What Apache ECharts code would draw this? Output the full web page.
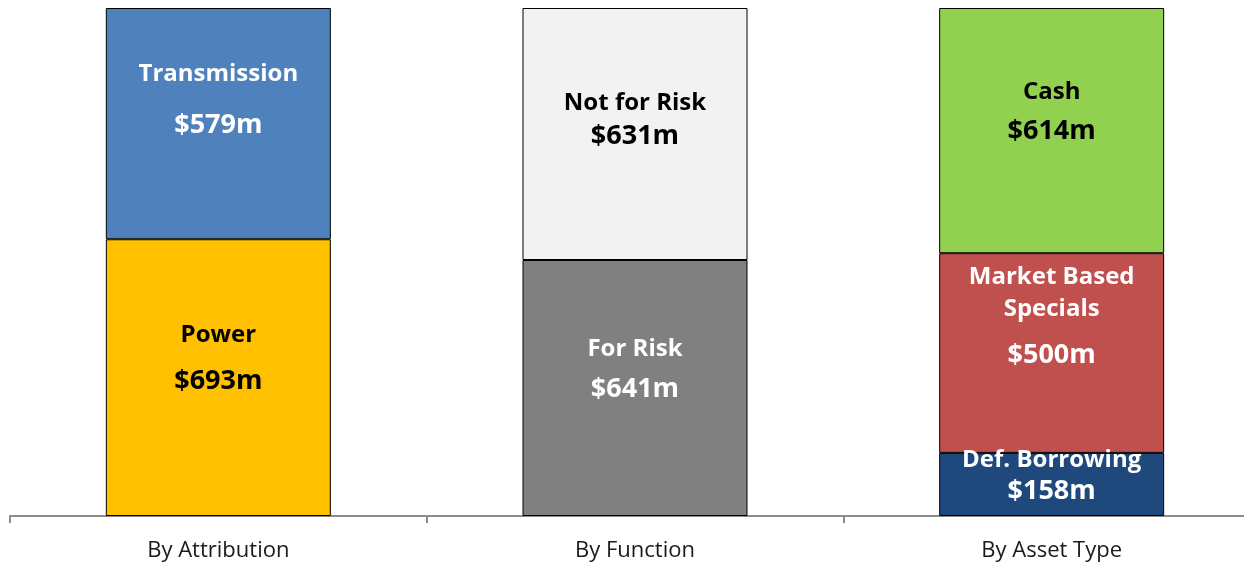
<!DOCTYPE html>
<html>
<head>
<meta charset="utf-8">
<script src="https://cdn.jsdelivr.net/npm/echarts@6/dist/echarts.min.js"></script>
<style>
  html, body { margin: 0; padding: 0; background: #fff; overflow: hidden; }
  #chart { width: 1260px; height: 564px; }
</style>
</head>
<body>
<div id="chart"></div>
<script>
// Breakdown categories along the x axis
const categories = ['By Attribution', 'By Function', 'By Asset Type'];

// Stacked segments, bottom to top within each category ($m)
const segmentNames = ['Power', 'Transmission', 'For Risk', 'Not for Risk', 'Def. Borrowing', 'Market Based Specials', 'Cash'];
const segmentCategory = [0, 0, 1, 1, 2, 2, 2];
const segmentValues = [693, 579, 641, 631, 158, 500, 614];

// Appearance of each segment: fill, label colour, label layout
const segmentStyle = {
  'Power':                 { color: '#FFC000', text: '#000000', gap: 46, offset: -19.5, name: 'Power' },
  'Transmission':          { color: '#4F81BD', text: '#FFFFFF', gap: 51, offset: -23.5, name: 'Transmission' },
  'For Risk':              { color: '#808080', text: '#FFFFFF', gap: 40, offset: -19,   name: 'For Risk' },
  'Not for Risk':          { color: '#F2F2F2', text: '#000000', gap: 33, offset: -14.5, name: 'Not for Risk' },
  'Def. Borrowing':        { color: '#1F497D', text: '#FFFFFF', gap: 31, offset: -8.5,  name: 'Def. Borrowing' },
  'Market Based Specials': { color: '#C0504D', text: '#FFFFFF', gap: 60, offset: -29.5, name: 'Market Based\nSpecials' },
  'Cash':                  { color: '#92D050', text: '#000000', gap: 39, offset: -19,   name: 'Cash' }
};

const totalMax = 1272;
const labelFont = '"Open Sans", Lato, sans-serif';

const series = segmentNames.map((name, i) => {
  const st = segmentStyle[name];
  const data = categories.map((c, ci) => ci === segmentCategory[i] ? segmentValues[i] : '-');
  const multi = st.name.indexOf('\n') >= 0;
  return {
    name: name,
    type: 'bar',
    stack: 'total',
    barWidth: 225,
    data: data,
    itemStyle: { color: st.color, borderColor: '#000', borderWidth: 1 },
    label: {
      show: true,
      position: 'inside',
      offset: [0, st.offset],
      formatter: (p) => {
        const nameLines = st.name.split('\n').map(l => '{n|' + l + '}').join('\n');
        return nameLines + '\n{v|$' + p.value + 'm}';
      },
      rich: {
        n: { fontFamily: labelFont, fontWeight: 'bold', fontSize: 24, color: st.text, lineHeight: multi ? 32 : st.gap },
        v: { fontFamily: labelFont, fontWeight: 'bold', fontSize: 27, color: st.text, lineHeight: st.gap }
      }
    }
  };
});

const chart = echarts.init(document.getElementById('chart'), null, { renderer: 'canvas' });
chart.setOption({
  animation: false,
  backgroundColor: '#ffffff',
  grid: { left: 10, right: 0, top: 8, bottom: 48, containLabel: false },
  xAxis: {
    type: 'category',
    data: categories,
    axisLine: { show: true, lineStyle: { color: '#8C8C8C', width: 2 } },
    axisTick: { show: true, length: 7, lineStyle: { color: '#8C8C8C', width: 2 } },
    axisLabel: { color: '#1a1a1a', fontFamily: labelFont, fontSize: 22, margin: 24 }
  },
  yAxis: {
    type: 'value',
    min: 0,
    max: totalMax,
    show: false,
    splitLine: { show: false }
  },
  series: series
});
</script>
</body>
</html>
